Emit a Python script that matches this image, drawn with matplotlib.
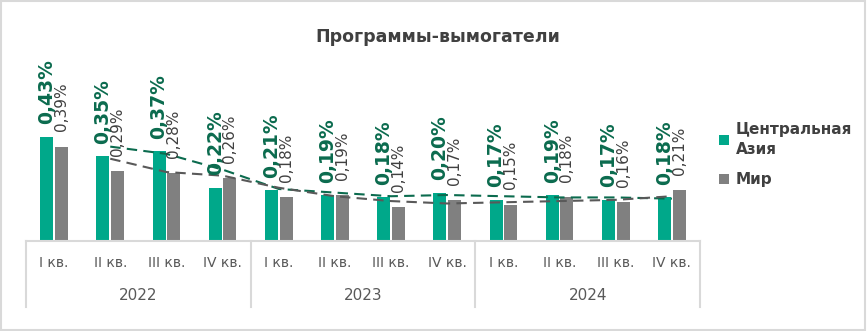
import numpy as np
import pandas as pd
import matplotlib
matplotlib.use('Agg')
import matplotlib.pyplot as plt
from matplotlib.patches import Rectangle

# data
quarters = ['I кв.', 'II кв.', 'III кв.', 'IV кв.'] * 3
years = ['2022', '2023', '2024']
central_asia = [0.43, 0.35, 0.37, 0.22, 0.21, 0.19, 0.18, 0.20, 0.17, 0.19, 0.17, 0.18]
world = [0.39, 0.29, 0.28, 0.26, 0.18, 0.19, 0.14, 0.17, 0.15, 0.18, 0.16, 0.21]

green = '#00a88a'
green_dark = '#0b6b4e'
grey = '#808080'
grey_dark = '#404040'
line_grey = '#d9d9d9'

plt.rcParams['font.family'] = ['DejaVu Sans']

fig = plt.figure(figsize=(8.67, 3.31), dpi=100)
# outer frame
fig.patches.append(Rectangle((0.001, 0.002), 0.997, 0.995, transform=fig.transFigure,
                             fill=False, edgecolor=line_grey, linewidth=1.5))

ax = fig.add_axes([26 / 867, 90 / 331, 674 / 867, 181 / 331])
x = np.arange(len(central_asia))
w = 0.23
off = 0.13
ax.bar(x - off, central_asia, w, color=green, label='Центральная\nАзия')
ax.bar(x + off, world, w, color=grey, label='Мир')

# 2-period moving average trendlines (as in the source chart)
ca_ma = pd.Series(central_asia).rolling(2).mean()
w_ma = pd.Series(world).rolling(2).mean()
ax.plot(x, ca_ma, color=green_dark, lw=1.5, ls=(0, (5, 3)))
ax.plot(x, w_ma, color='#595959', lw=1.5, ls=(0, (5, 3)))

def fmt(v):
    return f'{v:.2f}'.replace('.', ',') + '%'

for i in x:
    ax.annotate(fmt(central_asia[i]), (i - off, central_asia[i]), xytext=(0, 9),
                textcoords='offset points', rotation=90, ha='center', va='bottom',
                fontsize=13.5, fontweight='bold', color=green_dark, annotation_clip=False)
    ax.annotate(fmt(world[i]), (i + off, world[i]), xytext=(0, 11),
                textcoords='offset points', rotation=90, ha='center', va='bottom',
                fontsize=11, color=grey_dark, annotation_clip=False)

ax.set_xlim(-0.5, 11.5)
ax.set_ylim(0, 181 / 242)
for s in ax.spines.values():
    s.set_visible(False)
ax.set_xticks([])
ax.set_yticks([])

# multi-level category axis
trans = ax.get_xaxis_transform()
ax.plot([-0.5, 11.5], [0, 0], color=line_grey, lw=1.5, transform=trans, clip_on=False)
for b in [-0.5, 3.5, 7.5, 11.5]:
    ax.plot([b, b], [0, -66 / 181], color=line_grey, lw=1.5, transform=trans, clip_on=False)
for i, q in enumerate(quarters):
    ax.text(i, -22 / 181, q, transform=trans, ha='center', va='center',
            fontsize=10, color='#595959')
for j, yr in enumerate(years):
    ax.text(4 * j + 1.5, -55 / 181, yr, transform=trans, ha='center', va='center',
            fontsize=11, color='#595959')

fig.text(438 / 867, 1 - 37 / 331, 'Программы-вымогатели', ha='center', va='center',
         fontsize=12.5, fontweight='bold', color=grey_dark)

leg = fig.legend(loc='upper left', bbox_to_anchor=(705 / 867, 1 - 108 / 331),
                 frameon=False, handlelength=0.7, handleheight=0.7, handletextpad=0.4,
                 labelspacing=1.0, prop={'size': 11, 'weight': 'bold'})
for t in leg.get_texts():
    t.set_color(grey_dark)
    t.set_linespacing(1.45)

fig.savefig('out.png', dpi=100)
